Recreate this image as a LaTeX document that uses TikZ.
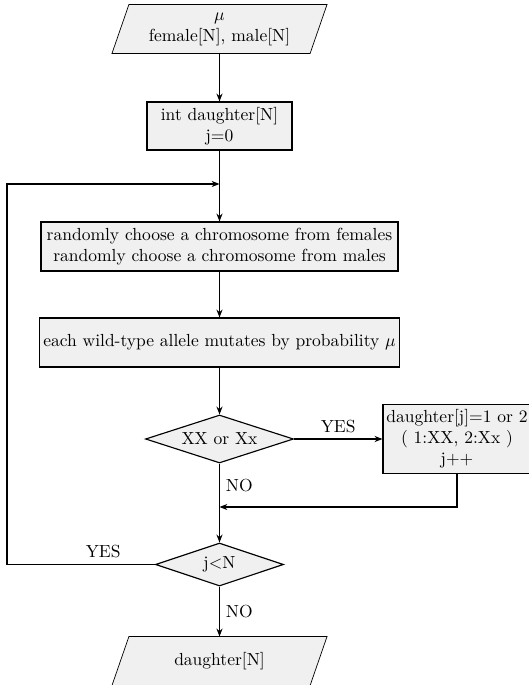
\documentclass[tikz,border=0pt]{standalone}
\usetikzlibrary{shapes.geometric,arrows.meta,backgrounds}
\definecolor{boxfill}{RGB}{240,240,240}
\newcommand\pxu{0.5714pt}
\begin{document}
\begin{tikzpicture}[x=0.5714pt,y=-0.5714pt,
  line width=0.65pt,
  arr/.style={-{Stealth[length=4.5pt,width=3.5pt]}},
  procbox/.style={draw,fill=boxfill,align=center,inner sep=2pt},
  decbox/.style={draw,fill=boxfill,diamond,aspect=3,inner sep=0pt},
  iobox/.style={align=center,inner sep=0pt}]
\useasboundingbox (0,0) rectangle (528,685);
\node[iobox,minimum width=197*\pxu,minimum height=48*\pxu] (in) at (219.5,29) {$\mu$\\female[N], male[N]};
\node[procbox,minimum width=145*\pxu,minimum height=48*\pxu] (init) at (219.5,126) {int daughter[N]\\j=0};
\coordinate (J1) at (219.5,184);
\node[procbox,minimum width=357*\pxu,minimum height=49*\pxu] (rand) at (219.5,246.5) {randomly choose a chromosome from females\\randomly choose a chromosome from males};
\node[procbox,minimum width=357*\pxu,minimum height=49*\pxu] (mut) at (219.5,342.5) {each wild-type allele mutates by probability $\mu$};
\node[decbox,minimum width=148*\pxu,minimum height=48*\pxu] (d1) at (219.5,439) {XX or Xx};
\node[procbox,inner xsep=1.5pt,minimum width=148*\pxu,minimum height=69*\pxu] (dbox) at (457,439) {daughter[j]=1 or 2\\( 1:XX, 2:Xx )\\j++};
\coordinate (J2) at (219.5,507);
\node[decbox,minimum width=128*\pxu,minimum height=43*\pxu] (d2) at (219.5,564.5) {j\textless N};
\node[iobox,minimum width=197*\pxu,minimum height=48*\pxu] (out) at (219.5,661) {daughter[N]};
\coordinate (L1) at (7,564.5);
\coordinate (L2) at (7,184);
\begin{scope}[on background layer]
\foreach \n in {in,out}
  \filldraw[fill=boxfill] ([xshift=8.5*\pxu]\n.north west) -- ([xshift=8.5*\pxu]\n.north east) -- ([xshift=-8.5*\pxu]\n.south east) -- ([xshift=-8.5*\pxu]\n.south west) -- cycle;
\end{scope}
\draw[arr] (in) -- (init);
\draw (init) -- (J1);
\draw[arr] (J1) -- (rand);
\draw[arr] (rand) -- (mut);
\draw[arr] (mut) -- (d1);
\draw[arr] (d1) -- node[above]{YES} (dbox);
\draw (d1) -- node[right]{NO} (J2);
\draw[arr] (dbox.south) |- (J2);
\draw[arr] (J2) -- (d2);
\draw[arr] (d2) -- node[right]{NO} (out);
\draw[arr] (d2) -- node[above,pos=0.35]{YES} (L1) -- (L2) -- (J1);
\end{tikzpicture}
\end{document}
